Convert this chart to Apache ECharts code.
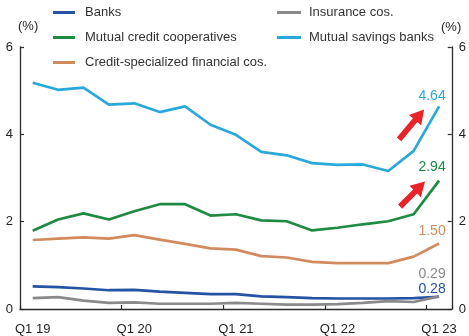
<!DOCTYPE html>
<html>
<head>
<meta charset="utf-8">
<script src="https://cdn.jsdelivr.net/npm/echarts@6/dist/echarts.min.js"></script>
<style>
  html, body { margin: 0; padding: 0; background: #fff; }
  #chart { width: 469px; height: 336px; }
</style>
</head>
<body>
<div id="chart"></div>
<script>
// Quarterly delinquency ratios by institution type (%)
const quarters = [
  'Q1 19', 'Q2 19', 'Q3 19', 'Q4 19',
  'Q1 20', 'Q2 20', 'Q3 20', 'Q4 20',
  'Q1 21', 'Q2 21', 'Q3 21', 'Q4 21',
  'Q1 22', 'Q2 22', 'Q3 22', 'Q4 22',
  'Q1 23'
];
const banks = [0.52, 0.50, 0.47, 0.43, 0.44, 0.40, 0.37, 0.34, 0.34, 0.29, 0.27, 0.25, 0.24, 0.24, 0.24, 0.25, 0.28];
const mutualCredit = [1.79, 2.05, 2.19, 2.05, 2.24, 2.40, 2.40, 2.14, 2.17, 2.03, 2.01, 1.80, 1.86, 1.94, 2.01, 2.17, 2.94];
const creditSpecialized = [1.58, 1.61, 1.64, 1.61, 1.69, 1.59, 1.49, 1.39, 1.36, 1.21, 1.18, 1.08, 1.05, 1.05, 1.05, 1.20, 1.50];
const insurance = [0.25, 0.27, 0.19, 0.14, 0.15, 0.12, 0.12, 0.12, 0.14, 0.12, 0.10, 0.10, 0.11, 0.14, 0.18, 0.16, 0.29];
const mutualSavings = [5.18, 5.02, 5.07, 4.68, 4.71, 4.51, 4.64, 4.22, 3.99, 3.60, 3.52, 3.34, 3.30, 3.31, 3.16, 3.62, 4.64];
const yTicks = [0, 2, 4, 6];

const FONT = '"Liberation Sans", Arial, sans-serif';
const TEXT = '#231f20';

const chart = echarts.init(document.getElementById('chart'), null, { renderer: 'canvas' });

// Line series with the latest value printed above its final point
function lineSeries(name, values, color, labelOffset) {
  const last = values.length - 1;
  return {
    name: name,
    type: 'line',
    data: values.map((v, i) => i === last ? {
      value: v,
      label: {
        show: true,
        position: 'top',
        distance: 0,
        offset: labelOffset,
        formatter: (p) => p.value.toFixed(2),
        color: color,
        fontSize: 14,
        fontFamily: FONT
      }
    } : v),
    symbol: 'circle',
    symbolSize: 0.01,
    showSymbol: true,
    itemStyle: { color: color },
    lineStyle: { color: color, width: 2.7 },
    emphasis: { disabled: true },
    z: 3
  };
}

const axisLine = { show: true, lineStyle: { color: '#2b2b2b', width: 1.3 } };
const yAxisCommon = {
  type: 'value',
  min: 0,
  max: 6,
  interval: 2,
  axisLine: axisLine,
  axisTick: { show: true, inside: true, length: 4, lineStyle: { color: '#2b2b2b', width: 1.2 } },
  splitLine: { show: false },
  axisLabel: {
    color: TEXT, fontSize: 13, fontFamily: FONT, margin: 7,
    formatter: (v) => yTicks.includes(v) ? String(v) : ''
  }
};

const option = {
  animation: false,
  backgroundColor: '#ffffff',
  title: [
    { text: '(%)', left: 13, top: 15, textStyle: { color: TEXT, fontSize: 13, fontWeight: 'normal', fontFamily: FONT } },
    { text: '(%)', left: 436, top: 16, textStyle: { color: TEXT, fontSize: 13, fontWeight: 'normal', fontFamily: FONT } }
  ],
  legend: [
    {
      orient: 'vertical', left: 48, top: 0,
      icon: 'rect', itemWidth: 22, itemHeight: 3, itemGap: 10,
      data: ['Banks', 'Mutual credit cooperatives', 'Credit-specialized financial cos.'],
      textStyle: { color: '#333', fontSize: 13, fontFamily: FONT, lineHeight: 15, padding: [0, 0, 0, 5] },
      selectedMode: false
    },
    {
      orient: 'vertical', left: 272, top: 0,
      icon: 'rect', itemWidth: 24, itemHeight: 3, itemGap: 10,
      data: ['Insurance cos.', 'Mutual savings banks'],
      textStyle: { color: '#333', fontSize: 13, fontFamily: FONT, lineHeight: 15, padding: [0, 0, 0, 3] },
      selectedMode: false
    }
  ],
  grid: { left: 20, right: 14, top: 47, bottom: 26, containLabel: false },
  xAxis: {
    type: 'category',
    data: quarters,
    boundaryGap: true,
    axisLine: axisLine,
    axisTick: { show: true, inside: true, interval: 3, length: 4, lineStyle: { color: '#2b2b2b', width: 1.2 } },
    axisLabel: { interval: 3, color: TEXT, fontSize: 13, fontFamily: FONT, margin: 14 },
    splitLine: { show: false }
  },
  yAxis: [
    Object.assign({}, yAxisCommon, { position: 'left' }),
    Object.assign({}, yAxisCommon, { position: 'right' })
  ],
  series: [
    lineSeries('Banks', banks, '#2453a3', [-7, -1]),
    lineSeries('Mutual credit cooperatives', mutualCredit, '#1e8a42', [-7, -6]),
    lineSeries('Credit-specialized financial cos.', creditSpecialized, '#d28b5e', [-7, -5]),
    lineSeries('Insurance cos.', insurance, '#8a8a8c', [-7, -15]),
    lineSeries('Mutual savings banks', mutualSavings, '#2aa8dc', [-7, -3])
  ]
};

chart.setOption(option);

// Red arrows pointing up-right toward the latest readings
function arrowShape(tail, tip) {
  const dx = tip[0] - tail[0], dy = tip[1] - tail[1];
  const len = Math.hypot(dx, dy);
  const ux = dx / len, uy = dy / len;
  const nx = -uy, ny = ux;
  const shaftHalf = 2.9, headHalf = 8, headLen = 14;
  const bx = tip[0] - ux * headLen, by = tip[1] - uy * headLen;
  return [
    [tail[0] + nx * shaftHalf, tail[1] + ny * shaftHalf],
    [bx + nx * shaftHalf, by + ny * shaftHalf],
    [bx + nx * headHalf, by + ny * headHalf],
    tip,
    [bx - nx * headHalf, by - ny * headHalf],
    [bx - nx * shaftHalf, by - ny * shaftHalf],
    [tail[0] - nx * shaftHalf, tail[1] - ny * shaftHalf]
  ];
}

const lastIdx = quarters.length - 1;
const savingsEnd = chart.convertToPixel({ xAxisIndex: 0, yAxisIndex: 0 }, [lastIdx, mutualSavings[lastIdx]]);
const creditEnd = chart.convertToPixel({ xAxisIndex: 0, yAxisIndex: 0 }, [lastIdx, mutualCredit[lastIdx]]);

chart.setOption({
  graphic: [
    {
      type: 'polygon',
      shape: { points: arrowShape([savingsEnd[0] - 40, savingsEnd[1] + 33], [savingsEnd[0] - 15, savingsEnd[1] + 3]) },
      style: { fill: '#e8232a' },
      z: 10
    },
    {
      type: 'polygon',
      shape: { points: arrowShape([creditEnd[0] - 39, creditEnd[1] + 26], [creditEnd[0] - 14, creditEnd[1] + 1]) },
      style: { fill: '#e8232a' },
      z: 10
    }
  ]
});
</script>
</body>
</html>
